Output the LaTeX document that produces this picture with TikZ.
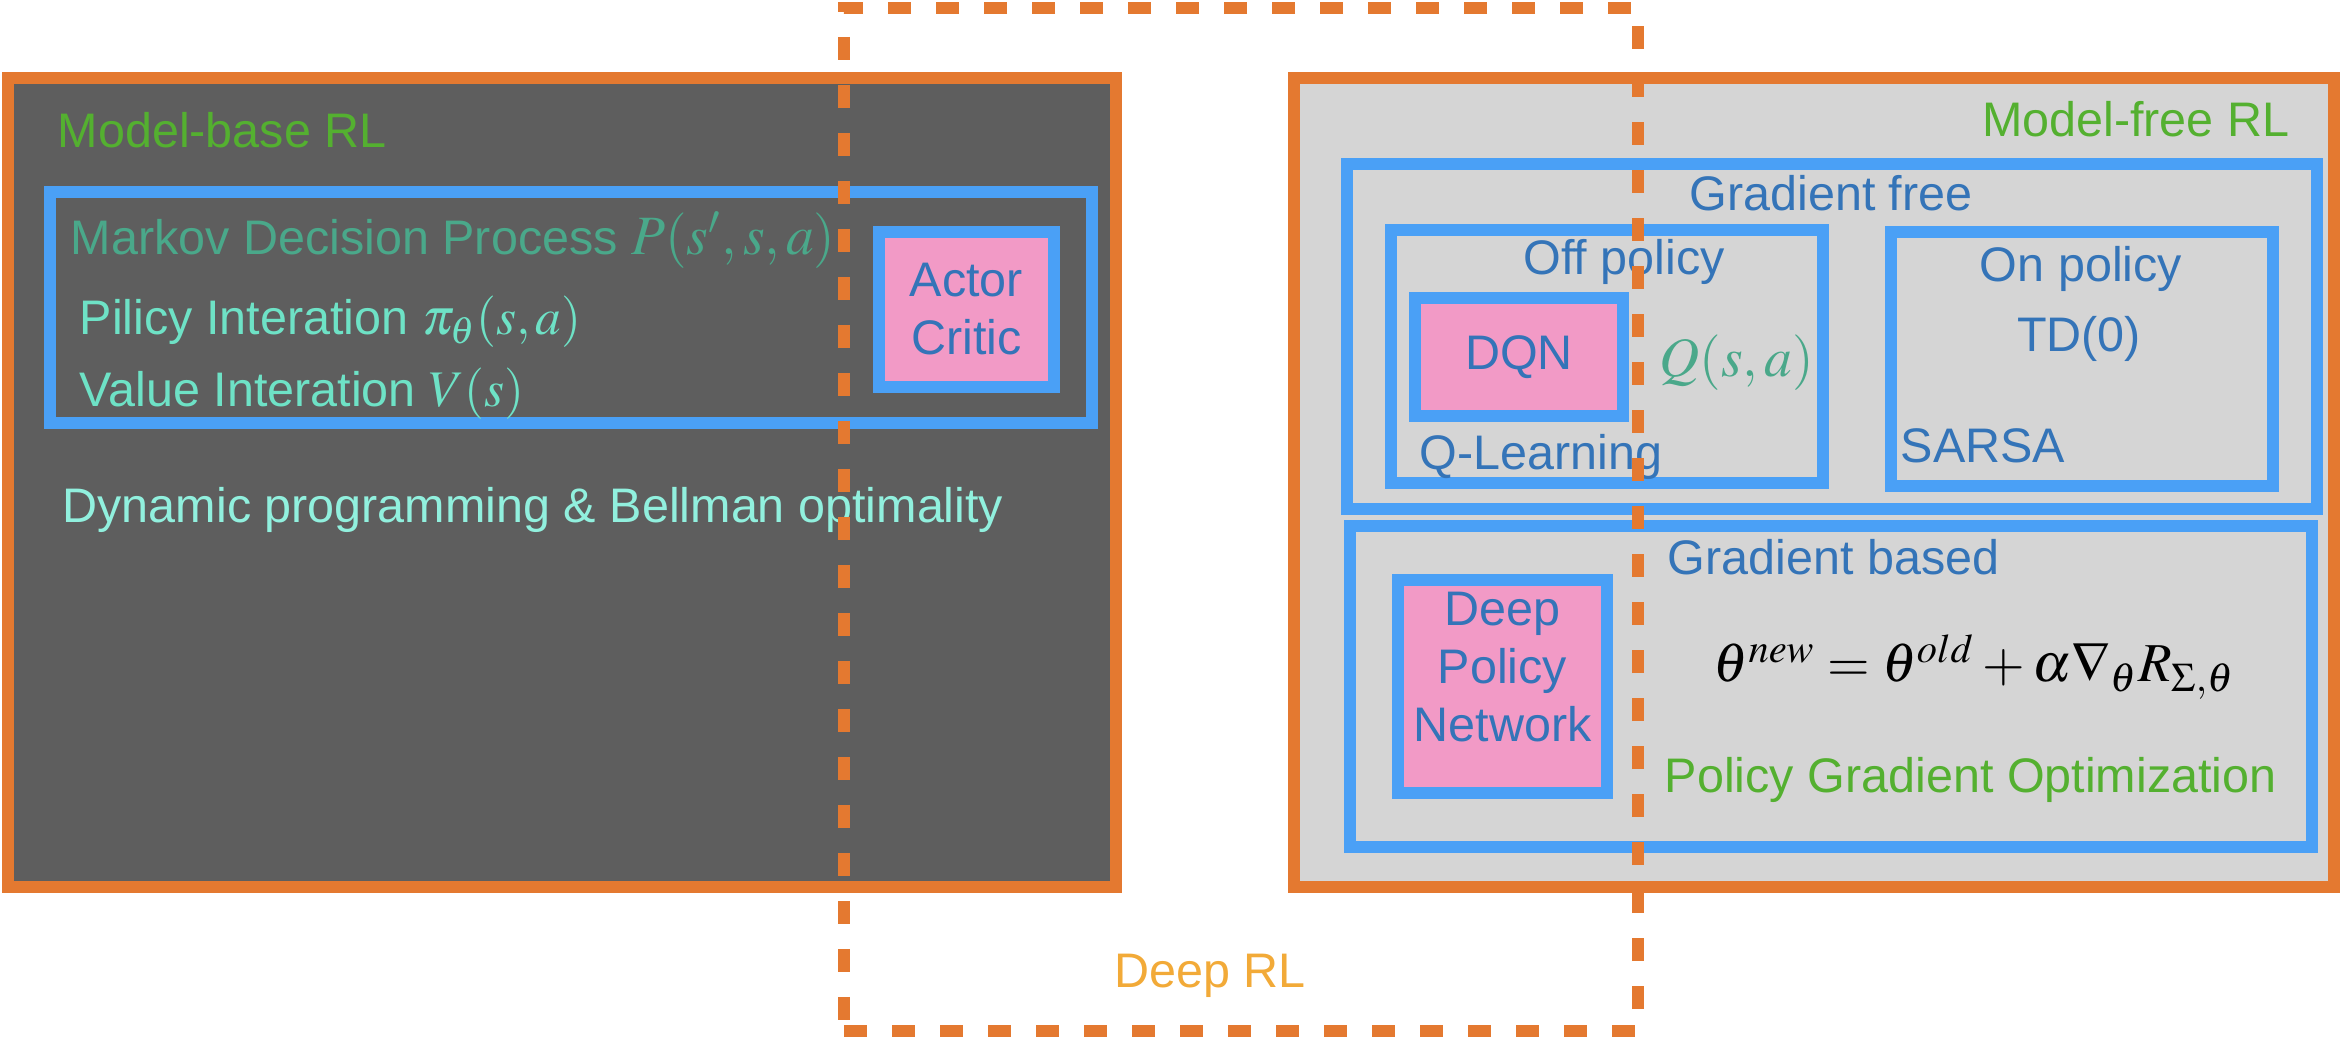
\documentclass[tikz,border=0pt]{standalone}
\usepackage{mathptmx}
\usepackage{fontspec}
\setmainfont{Liberation Sans}
\usetikzlibrary{positioning}

\definecolor{rlorange}{RGB}{228,121,48}
\definecolor{rlblue}{RGB}{74,160,246}
\definecolor{rlpink}{RGB}{242,154,198}
\definecolor{rldark}{RGB}{94,94,94}
\definecolor{rllight}{RGB}{213,213,213}
\definecolor{rlgreen}{RGB}{84,176,48}
\definecolor{rlteal}{RGB}{74,168,138}
\definecolor{rlmint}{RGB}{110,226,198}
\definecolor{rlaqua}{RGB}{145,240,222}
\definecolor{rltext}{RGB}{52,116,184}
\definecolor{rlyellow}{RGB}{242,170,56}

\newcommand{\rlfont}{\fontsize{13.8}{16.5}\selectfont}
\newcommand{\rlmathfont}{\fontsize{15.8}{16.5}\selectfont}
\newcommand{\rlsmallmath}{\fontsize{14.6}{16.5}\selectfont}

\begin{document}
\begin{tikzpicture}[
    % Box styles
    box/.style={rectangle, line width=0.12cm, inner sep=0pt},
    modelbox/.style={box, draw=rlorange},
    groupbox/.style={box, draw=rlblue},
    algobox/.style={box, draw=rlblue, fill=rlpink, font=\rlfont, text=rltext, align=center},
    deepbox/.style={box, draw=rlorange, dash pattern=on 0.23cm off 0.25cm},
    % Text styles
    boxtext/.style={font=\rlfont, inner sep=0pt},
    titletext/.style={boxtext, text=rlgreen},
    algotext/.style={boxtext, text=rltext, align=center}
]
\useasboundingbox (0,0) rectangle (23.42,10.40);

% === MODEL-BASE RL ===
\node[modelbox, fill=rldark, minimum width=11.08cm, minimum height=8.09cm] (mbased) at (5.62,5.575) {};
\node[titletext, anchor=base west] (mbtitle) at (0.57,8.92) {Model-base RL};
\node[groupbox, minimum width=10.42cm, minimum height=2.31cm] (mdp) at (5.71,7.325) {};
\node[boxtext, text=rlteal, anchor=base west] (mdptext) at (0.70,7.85) {Markov Decision Process {\rlmathfont$P(s', s, a)$}};
\node[boxtext, text=rlmint, anchor=base west] (pitext) at (0.79,7.05) {Pilicy Interation {\rlsmallmath$\pi_\theta(s, a)$}};
\node[boxtext, text=rlmint, anchor=base west] (vitext) at (0.79,6.33) {Value Interation {\rlsmallmath$V(s)$}};
\node[algobox, minimum width=1.75cm, minimum height=1.55cm] (ac) at (9.665,7.305) {Actor\\Critic};
\node[boxtext, text=rlaqua, anchor=base west] (dptext) at (0.62,5.17) {Dynamic programming \& Bellman optimality};

% === MODEL-FREE RL ===
\node[modelbox, fill=rllight, minimum width=10.40cm, minimum height=8.09cm] (mfree) at (18.14,5.575) {};
\node[titletext, anchor=base east] (mftitle) at (22.90,9.03) {Model-free RL};

% Gradient free
\node[groupbox, minimum width=9.70cm, minimum height=3.45cm] (gfree) at (18.32,7.035) {};
\node[algotext, anchor=base] (gftitle) at (18.31,8.29) {Gradient free};
\node[groupbox, minimum width=4.32cm, minimum height=2.53cm] (offp) at (16.07,6.835) {};
\node[algotext, anchor=base] (offtitle) at (16.24,7.65) {Off policy};
\node[algobox, minimum width=2.08cm, minimum height=1.18cm] (dqn) at (15.19,6.83) {DQN};
\node[boxtext, text=rlteal, font=\rlmathfont, anchor=base west] (qsa) at (16.59,6.63) {$Q(s, a)$};
\node[algotext, anchor=base west] (qltext) at (14.19,5.70) {Q-Learning};
\node[groupbox, minimum width=3.82cm, minimum height=2.54cm] (onp) at (20.82,6.81) {};
\node[algotext, anchor=base] (ontitle) at (20.81,7.58) {On policy};
\node[algotext, anchor=base] (tdtext) at (20.79,6.88) {TD(0)};
\node[algotext, anchor=base west] (sarsa) at (19.00,5.77) {SARSA};

% Gradient based
\node[groupbox, minimum width=9.62cm, minimum height=3.21cm] (gbased) at (18.31,3.535) {};
\node[algotext, anchor=base west] (gbtitle) at (16.67,4.65) {Gradient based};
\node[algobox, minimum width=2.09cm, minimum height=2.13cm] (dpn) at (15.025,3.535) {};
\node[algotext, yshift=0.19cm] (dpntext) at (dpn.center) {Deep\\Policy\\Network};
\node[inner sep=0pt, font=\fontsize{15.6}{19}\selectfont, anchor=base west] (pgformula) at (17.13,3.58)
    {$\theta^{new} = \theta^{old} + \alpha\nabla_\theta R_{\Sigma,\theta}$};
\node[titletext, anchor=base west] (pgtext) at (16.64,2.47) {Policy Gradient Optimization};

% === DEEP RL ===
\node[deepbox, minimum width=7.94cm, minimum height=10.23cm] (deep) at (12.41,5.205) {};
\node[boxtext, text=rlyellow, anchor=base] (deeptitle) at (12.10,0.52) {Deep RL};

\end{tikzpicture}
\end{document}
